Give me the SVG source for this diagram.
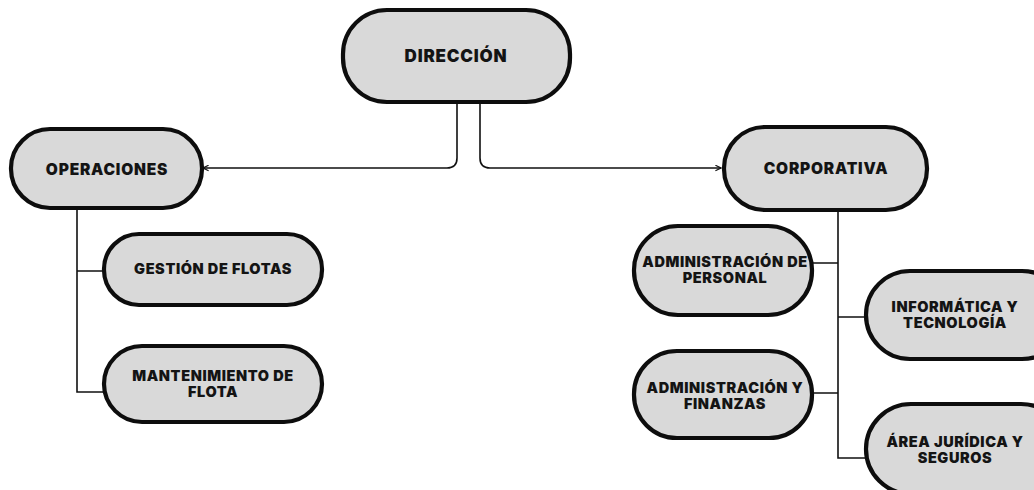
<svg xmlns="http://www.w3.org/2000/svg" width="1034" height="490" viewBox="0 0 1034 490">
  <defs>
    <marker id="arrow" viewBox="0 0 10 10" refX="9" refY="5" markerWidth="7" markerHeight="7" orient="auto-start-reverse" markerUnits="userSpaceOnUse">
      <path d="M1,1 L9,5 L1,9" fill="none" stroke="#111" stroke-width="1.6"/>
    </marker>
    <style>
      .pill { fill: #d9d9d9; stroke: #0d0d0d; stroke-width: 4.2; }
      .lbl { font-family: "Inter", "Liberation Sans", sans-serif; font-weight: 900; font-size: 14.5px; letter-spacing: 0.6px; fill: #141414; text-anchor: middle; }
      .mid { font-size: 15.5px; letter-spacing: 0.8px; }
      .big { font-size: 17px; letter-spacing: 0.8px; }
      .link { fill: none; stroke: #111; stroke-width: 1.6; }
    </style>
  </defs>

  <rect width="1034" height="490" fill="#ffffff"/>

  <!-- connectors -->
  <g id="connectors">
    <path class="link" d="M457,102 V158 Q457,168 447,168 H203" marker-end="url(#arrow)"/>
    <path class="link" d="M480,102 V158 Q480,168 490,168 H721" marker-end="url(#arrow)"/>
    <path class="link" d="M77,208 V392 H104 M77,271 H104"/>
    <path class="link" d="M838,210 V458 H866 M838,263 H812 M838,317 H866 M838,393 H812"/>
  </g>

  <g id="direccion">
    <rect class="pill" x="343" y="10" width="227" height="92" rx="44"/>
    <text class="lbl big" x="456" y="62">DIRECCIÓN</text>
  </g>

  <g id="operaciones">
    <rect class="pill" x="11" y="129" width="191" height="79" rx="39"/>
    <text class="lbl mid" x="107" y="175">OPERACIONES</text>
  </g>

  <g id="corporativa">
    <rect class="pill" x="724" y="127" width="203" height="83" rx="41"/>
    <text class="lbl mid" x="826" y="174">CORPORATIVA</text>
  </g>

  <g id="gestion-flotas">
    <rect class="pill" x="104" y="234" width="218" height="71" rx="35"/>
    <text class="lbl" x="213" y="274">GESTIÓN DE FLOTAS</text>
  </g>

  <g id="mantenimiento-flota">
    <rect class="pill" x="104" y="346" width="218" height="76" rx="38"/>
    <text class="lbl" x="213" y="381">MANTENIMIENTO DE</text>
    <text class="lbl" x="213" y="397">FLOTA</text>
  </g>

  <g id="admin-personal">
    <rect class="pill" x="634" y="226" width="178" height="89" rx="44"/>
    <text class="lbl" x="725" y="267">ADMINISTRACIÓN DE</text>
    <text class="lbl" x="725" y="283">PERSONAL</text>
  </g>

  <g id="informatica">
    <rect class="pill" x="866" y="271" width="200" height="88" rx="44"/>
    <text class="lbl" x="955" y="312">INFORMÁTICA Y</text>
    <text class="lbl" x="955" y="328">TECNOLOGÍA</text>
  </g>

  <g id="admin-finanzas">
    <rect class="pill" x="634" y="351" width="178" height="87" rx="43"/>
    <text class="lbl" x="725" y="393">ADMINISTRACIÓN Y</text>
    <text class="lbl" x="725" y="409">FINANZAS</text>
  </g>

  <g id="area-juridica">
    <rect class="pill" x="866" y="404" width="200" height="90" rx="45"/>
    <text class="lbl" x="955" y="447">ÁREA JURÍDICA Y</text>
    <text class="lbl" x="955" y="463">SEGUROS</text>
  </g>
</svg>
